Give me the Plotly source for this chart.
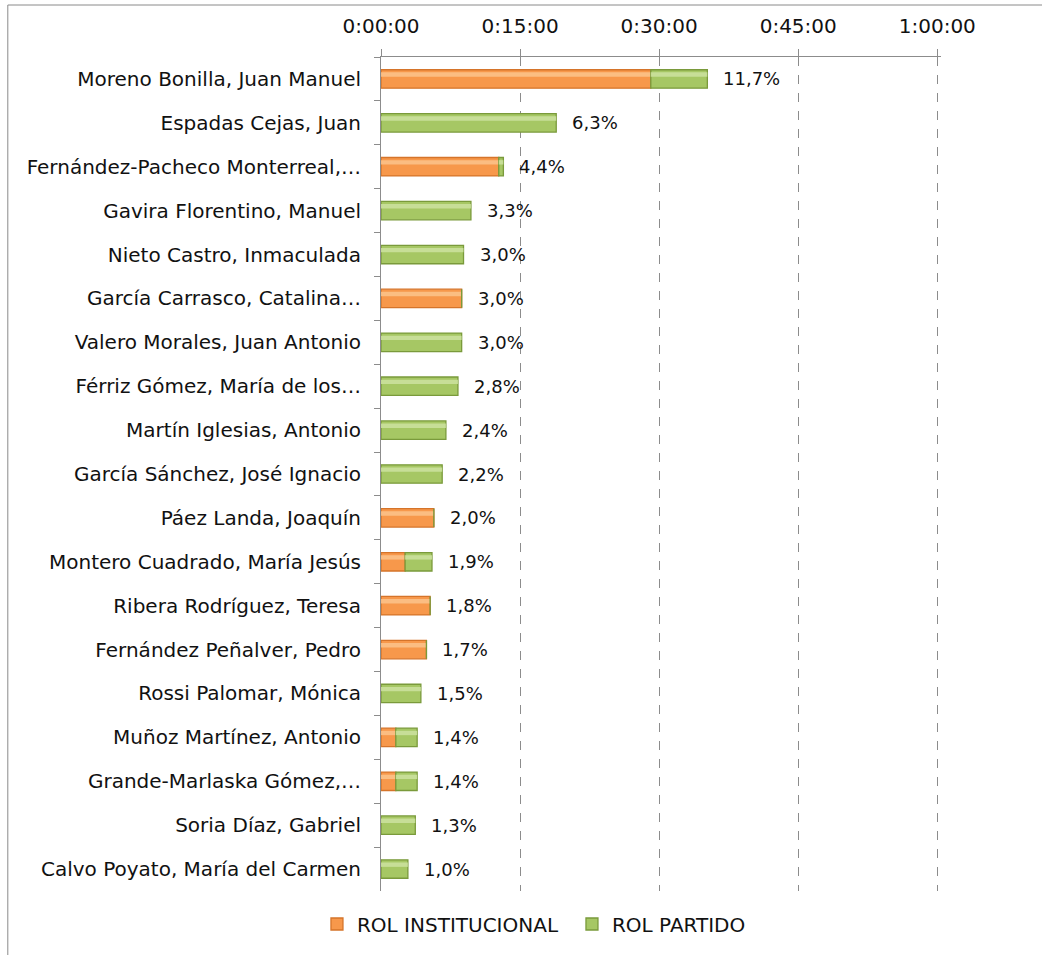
import plotly.graph_objects as go

categories = [
    "Moreno Bonilla, Juan Manuel",
    "Espadas Cejas, Juan",
    "Fernández-Pacheco Monterreal,…",
    "Gavira Florentino, Manuel",
    "Nieto Castro, Inmaculada",
    "García Carrasco, Catalina…",
    "Valero Morales, Juan Antonio",
    "Férriz Gómez, María de los…",
    "Martín Iglesias, Antonio",
    "García Sánchez, José Ignacio",
    "Páez Landa, Joaquín",
    "Montero Cuadrado, María Jesús",
    "Ribera Rodríguez, Teresa",
    "Fernández Peñalver, Pedro",
    "Rossi Palomar, Mónica",
    "Muñoz Martínez, Antonio",
    "Grande-Marlaska Gómez,…",
    "Soria Díaz, Gabriel",
    "Calvo Poyato, María del Carmen",
]
# minutes
rol_institucional = [29.1, 0, 12.7, 0, 0, 8.7, 0, 0, 0, 0, 5.7, 2.6, 5.3, 4.9, 0, 1.6, 1.6, 0, 0]
rol_partido = [6.1, 18.9, 0.5, 9.7, 8.9, 0, 8.7, 8.3, 7.0, 6.6, 0, 2.9, 0, 0, 4.3, 2.3, 2.3, 3.7, 2.9]
percent_labels = [11.7, 6.3, 4.4, 3.3, 3.0, 3.0, 3.0, 2.8, 2.4, 2.2, 2.0, 1.9, 1.8, 1.7, 1.5, 1.4, 1.4, 1.3, 1.0]
tick_values = [0, 15, 30, 45, 60]
tick_labels = ["0:00:00", "0:15:00", "0:30:00", "0:45:00", "1:00:00"]

FONT = "DejaVu Sans"
FS = 20
FS_PCT = 18
TXT = "#111111"
W, H = 1042, 955
X_MAX = 60.4
L, T, B = 381, 57, 891
R = L + 556 * X_MAX / 60.0

ORANGE, ORANGE_EDGE, ORANGE_HI = "#F7984B", "#D5742A", "#FCC48C"
GREEN, GREEN_EDGE, GREEN_HI = "#A6C764", "#7A9A3B", "#CDE3A0"
BAR_W = 0.42

zeros = [0] * len(categories)
fig = go.Figure()
fig.add_trace(go.Bar(
    y=categories, x=rol_institucional, base=zeros, orientation="h", name="ROL INSTITUCIONAL",
    marker=dict(color=ORANGE, line=dict(color=ORANGE_EDGE, width=1.3)),
    width=BAR_W,
))
fig.add_trace(go.Bar(
    y=categories, x=rol_institucional, base=zeros, orientation="h", showlegend=False,
    marker=dict(color=ORANGE_HI, line=dict(width=0)), opacity=0.85,
    width=0.1, offset=-0.15, hoverinfo="skip",
))
fig.add_trace(go.Bar(
    y=categories, x=rol_partido, base=rol_institucional, orientation="h", name="ROL PARTIDO",
    marker=dict(color=GREEN, line=dict(color=GREEN_EDGE, width=1.3)),
    width=BAR_W,
))
fig.add_trace(go.Bar(
    y=categories, x=rol_partido, base=rol_institucional, orientation="h", showlegend=False,
    marker=dict(color=GREEN_HI, line=dict(width=0)), opacity=0.85,
    width=0.1, offset=-0.15, hoverinfo="skip",
))

totals = [a + b for a, b in zip(rol_institucional, rol_partido)]
for cat, tot, p in zip(categories, totals, percent_labels):
    fig.add_annotation(
        x=tot, y=cat, xref="x", yref="y", text=f"{p:.1f}%".replace(".", ","),
        showarrow=False, xanchor="left", xshift=14,
        font=dict(family=FONT, size=FS_PCT, color=TXT),
    )

pw, ph = R - L, B - T
def px(x):
    return (x - L) / pw
def py(y):
    return (B - y) / ph

fig.add_shape(type="rect", xref="paper", yref="paper",
              x0=px(8), x1=px(1060), y0=py(975), y1=py(5),
              line=dict(color="#8A8A8A", width=1), fillcolor="rgba(0,0,0,0)", layer="below")

fig.update_layout(
    width=W, height=H,
    margin=dict(l=L, r=W - R, t=T, b=H - B, pad=0),
    barmode="overlay",
    plot_bgcolor="white", paper_bgcolor="white",
    font=dict(family=FONT, size=FS, color=TXT),
    showlegend=True,
    legend=dict(orientation="h", x=px(317), xanchor="left", y=py(924), yanchor="middle",
                font=dict(family=FONT, size=FS, color=TXT), traceorder="normal",
                itemwidth=30, entrywidth=210, entrywidthmode="pixels"),
    xaxis=dict(
        side="top", range=[0, X_MAX], tickvals=tick_values, ticktext=tick_labels,
        showgrid=True, gridcolor="#8C8C8C", griddash="dash", gridwidth=1,
        showline=True, linecolor="#8C8C8C", linewidth=1,
        ticks="outside", ticklen=7, tickcolor="#8C8C8C",
        ticklabelstandoff=8,
        zeroline=False, tickfont=dict(family=FONT, size=FS, color=TXT),
        fixedrange=True,
    ),
    yaxis=dict(
        autorange="reversed", type="category", tickson="boundaries",
        showline=True, linecolor="#8C8C8C", linewidth=1,
        ticks="outside", ticklen=6, tickcolor="#8C8C8C",
        ticklabelstandoff=15,
        showgrid=False, tickfont=dict(family=FONT, size=FS, color=TXT),
    ),
)

fig.write_html("out.html", config={"displayModeBar": False},
               post_script="document.body.style.margin='0px';")
